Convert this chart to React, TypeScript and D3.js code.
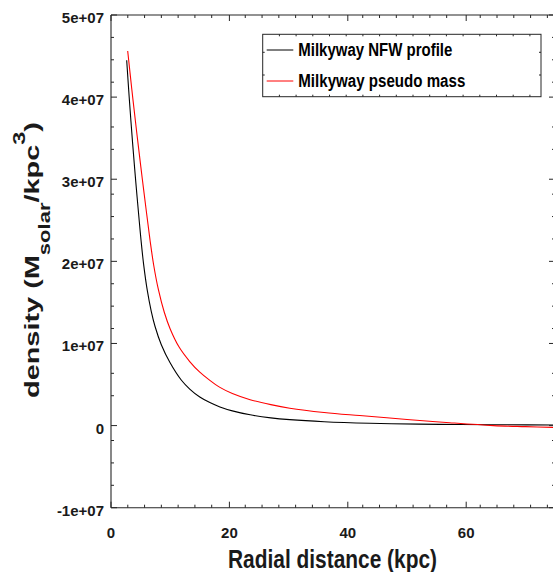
import React from "react";
import * as d3 from "d3";

// ---- data (density in units of 1e7 Msolar/kpc^3) ----
const nfwR = [2.65, 3.1, 3.66, 4.2, 4.79, 5.07, 5.5, 6.13, 6.8, 7.43, 8.5, 9.96, 11.9, 13.3, 15, 16.7, 18.4, 20.5, 23.5, 27, 30.2, 36, 43.7, 52, 59, 67, 75];
const nfwV = [4.45, 3.971, 3.431, 2.956, 2.476, 2.26, 1.97, 1.646, 1.392, 1.21, 0.985, 0.768, 0.552, 0.445, 0.348, 0.28, 0.227, 0.179, 0.131, 0.094, 0.072, 0.047, 0.0285, 0.018, 0.013, 0.0093, 0.0069];

const pseudoR = [2.82, 3.5, 4.2, 4.6, 5.3, 6.0, 6.59, 7.2, 8, 9, 10, 11.5, 13.3, 15, 16.7, 18.4, 20.5, 23.5, 27, 30.2, 36, 42, 50, 57.2, 64.6, 70, 75];
const pseudoV = [4.561, 4.105, 3.66, 3.415, 2.997, 2.592, 2.26, 1.959, 1.658, 1.38, 1.176, 0.956, 0.78, 0.65, 0.55, 0.465, 0.39, 0.315, 0.255, 0.212, 0.16, 0.122, 0.075, 0.035, 0.0, -0.013, -0.023];

const xMajorTicks = [0, 20, 40, 60];
const yMajorTicks = [-1e7, 0, 1e7, 2e7, 3e7, 4e7, 5e7];
const yTickLabels = ["-1e+07", "0", "1e+07", "2e+07", "3e+07", "4e+07", "5e+07"];
const seriesNames = ["Milkyway NFW profile", "Milkyway pseudo mass"];
const seriesColors = ["#000000", "#ff0000"];
const xTitle = "Radial distance (kpc)";

const W = 553;
const H = 572;
const L = 111, R = 555, T = 15, B = 507.7;

export default function App() {
  const x = d3.scaleLinear().domain([0, 75]).range([L, R]);
  const y = d3.scaleLinear().domain([-1e7, 5e7]).range([B, T]);

  const line = d3
    .line<[number, number]>()
    .x((d) => x(d[0]))
    .y((d) => y(d[1] * 1e7))
    .curve(d3.curveCatmullRom.alpha(0.5));

  const nfw: [number, number][] = nfwR.map((r, i) => [r, nfwV[i]]);
  const pseudo: [number, number][] = pseudoR.map((r, i) => [r, pseudoV[i]]);

  // minor ticks
  const xMinor: number[] = [];
  for (let k = 1; k * 2.835 <= 75; k++) {
    const v = k * 2.835;
    if (xMajorTicks.some((m) => Math.abs(m - v) < 1)) continue;
    xMinor.push(v);
  }
  const yMinor: number[] = [];
  for (let k = 1; k < 22; k++) {
    const v = -1e7 + (k * 6e7) / 22;
    if (yMajorTicks.some((m) => Math.abs(m - v) < 0.12e7)) continue;
    yMinor.push(v);
  }

  const axisColor = "#262626";
  const font = "'Liberation Sans', Arial, Helvetica, sans-serif";

  // legend geometry
  const lgX0 = 262.7, lgY0 = 34.3, lgX1 = 541, lgY1 = 96.7;
  const lgTicksX: number[] = [];
  for (let px = lgX0 + 16.7; px < lgX1 - 2; px += 16.7) lgTicksX.push(px);
  const lgTicksY = [lgY0 + 18, lgY0 + 40.7];

  return (
    <svg
      width={W}
      height={H}
      style={{ position: "absolute", left: 0, top: 0, background: "#fff" }}
      fontFamily={font}
    >
      <rect x={0} y={0} width={W} height={H} fill="#fff" />
      <defs>
        <clipPath id="plotclip">
          <rect x={L} y={T} width={R - L} height={B - T} />
        </clipPath>
      </defs>

      {/* curves */}
      <g clipPath="url(#plotclip)">
        <path d={line(nfw) || ""} fill="none" stroke={seriesColors[0]} strokeWidth={1.1} />
        <path d={line(pseudo) || ""} fill="none" stroke={seriesColors[1]} strokeWidth={1.1} />
      </g>

      {/* axes box */}
      <g stroke={axisColor} strokeWidth={1.1} fill="none">
        <line x1={L} y1={T} x2={L} y2={B} />
        <line x1={L} y1={B} x2={R} y2={B} />
        <line x1={L} y1={T} x2={R} y2={T} />
        <line x1={R} y1={T} x2={R} y2={B} />
      </g>

      {/* ticks */}
      <g stroke={axisColor} strokeWidth={1}>
        {xMajorTicks.map((v) => (
          <g key={"xm" + v}>
            <line x1={x(v)} x2={x(v)} y1={B} y2={B - 6} />
            <line x1={x(v)} x2={x(v)} y1={T} y2={T + 6} />
          </g>
        ))}
        {xMinor.map((v) => (
          <g key={"xn" + v}>
            <line x1={x(v)} x2={x(v)} y1={B} y2={B - 3} />
            <line x1={x(v)} x2={x(v)} y1={T} y2={T + 3} />
          </g>
        ))}
        {yMajorTicks.map((v) => (
          <g key={"ym" + v}>
            <line x1={L} x2={L + 6} y1={y(v)} y2={y(v)} />
            <line x1={R} x2={R - 6} y1={y(v)} y2={y(v)} />
          </g>
        ))}
        {yMinor.map((v) => (
          <g key={"yn" + v}>
            <line x1={L} x2={L + 3} y1={y(v)} y2={y(v)} />
            <line x1={R} x2={R - 3} y1={y(v)} y2={y(v)} />
          </g>
        ))}
      </g>

      {/* tick labels */}
      <g fontSize={15} fontWeight="bold" fill="#1a1a1a">
        {xMajorTicks.map((v) => (
          <text key={"xl" + v} x={x(v)} y={537.7} textAnchor="middle">
            {String(v)}
          </text>
        ))}
        {yMajorTicks.map((v, i) => (
          <text key={"yl" + v} x={104} y={y(v) + 8} textAnchor="end">
            {yTickLabels[i]}
          </text>
        ))}
      </g>

      {/* axis titles */}
      <text
        x={228}
        y={567.5}
        fontSize={26}
        fontWeight="bold"
        fill="#1a1a1a"
        textLength={209}
        lengthAdjust="spacingAndGlyphs"
      >
        {xTitle}
      </text>
      <text
        transform="translate(39,398) rotate(-90)"
        fontSize={21}
        fontWeight="bold"
        fill="#1a1a1a"
        textLength={276}
        lengthAdjust="spacingAndGlyphs"
      >
        <tspan>density (M</tspan>
        <tspan fontSize={16} dy={11}>solar</tspan>
        <tspan dy={-11}>/kpc</tspan>
        <tspan fontSize={17} dy={-14}>3</tspan>
        <tspan dy={14}>)</tspan>
      </text>

      {/* legend */}
      <g>
        <rect x={lgX0} y={lgY0} width={lgX1 - lgX0} height={lgY1 - lgY0} fill="#fff" stroke={axisColor} strokeWidth={1} />
        <g stroke={axisColor} strokeWidth={1}>
          {lgTicksX.map((px) => (
            <g key={"lt" + px}>
              <line x1={px} x2={px} y1={lgY0} y2={lgY0 + 2} />
              <line x1={px} x2={px} y1={lgY1} y2={lgY1 - 2} />
            </g>
          ))}
          {lgTicksY.map((py) => (
            <g key={"ly" + py}>
              <line x1={lgX0} x2={lgX0 + 2} y1={py} y2={py} />
              <line x1={lgX1} x2={lgX1 - 2} y1={py} y2={py} />
            </g>
          ))}
        </g>
        {seriesNames.map((name, i) => {
          const ly = 50 + i * 31;
          return (
            <g key={name}>
              <line x1={266.7} x2={293.3} y1={ly} y2={ly} stroke={seriesColors[i]} strokeWidth={1} />
              <text
                x={298.3}
                y={ly + 6}
                fontSize={17.5}
                fontWeight="bold"
                fill="#000"
                textLength={i === 0 ? 154 : 167}
                lengthAdjust="spacingAndGlyphs"
              >
                {name}
              </text>
            </g>
          );
        })}
      </g>
    </svg>
  );
}
